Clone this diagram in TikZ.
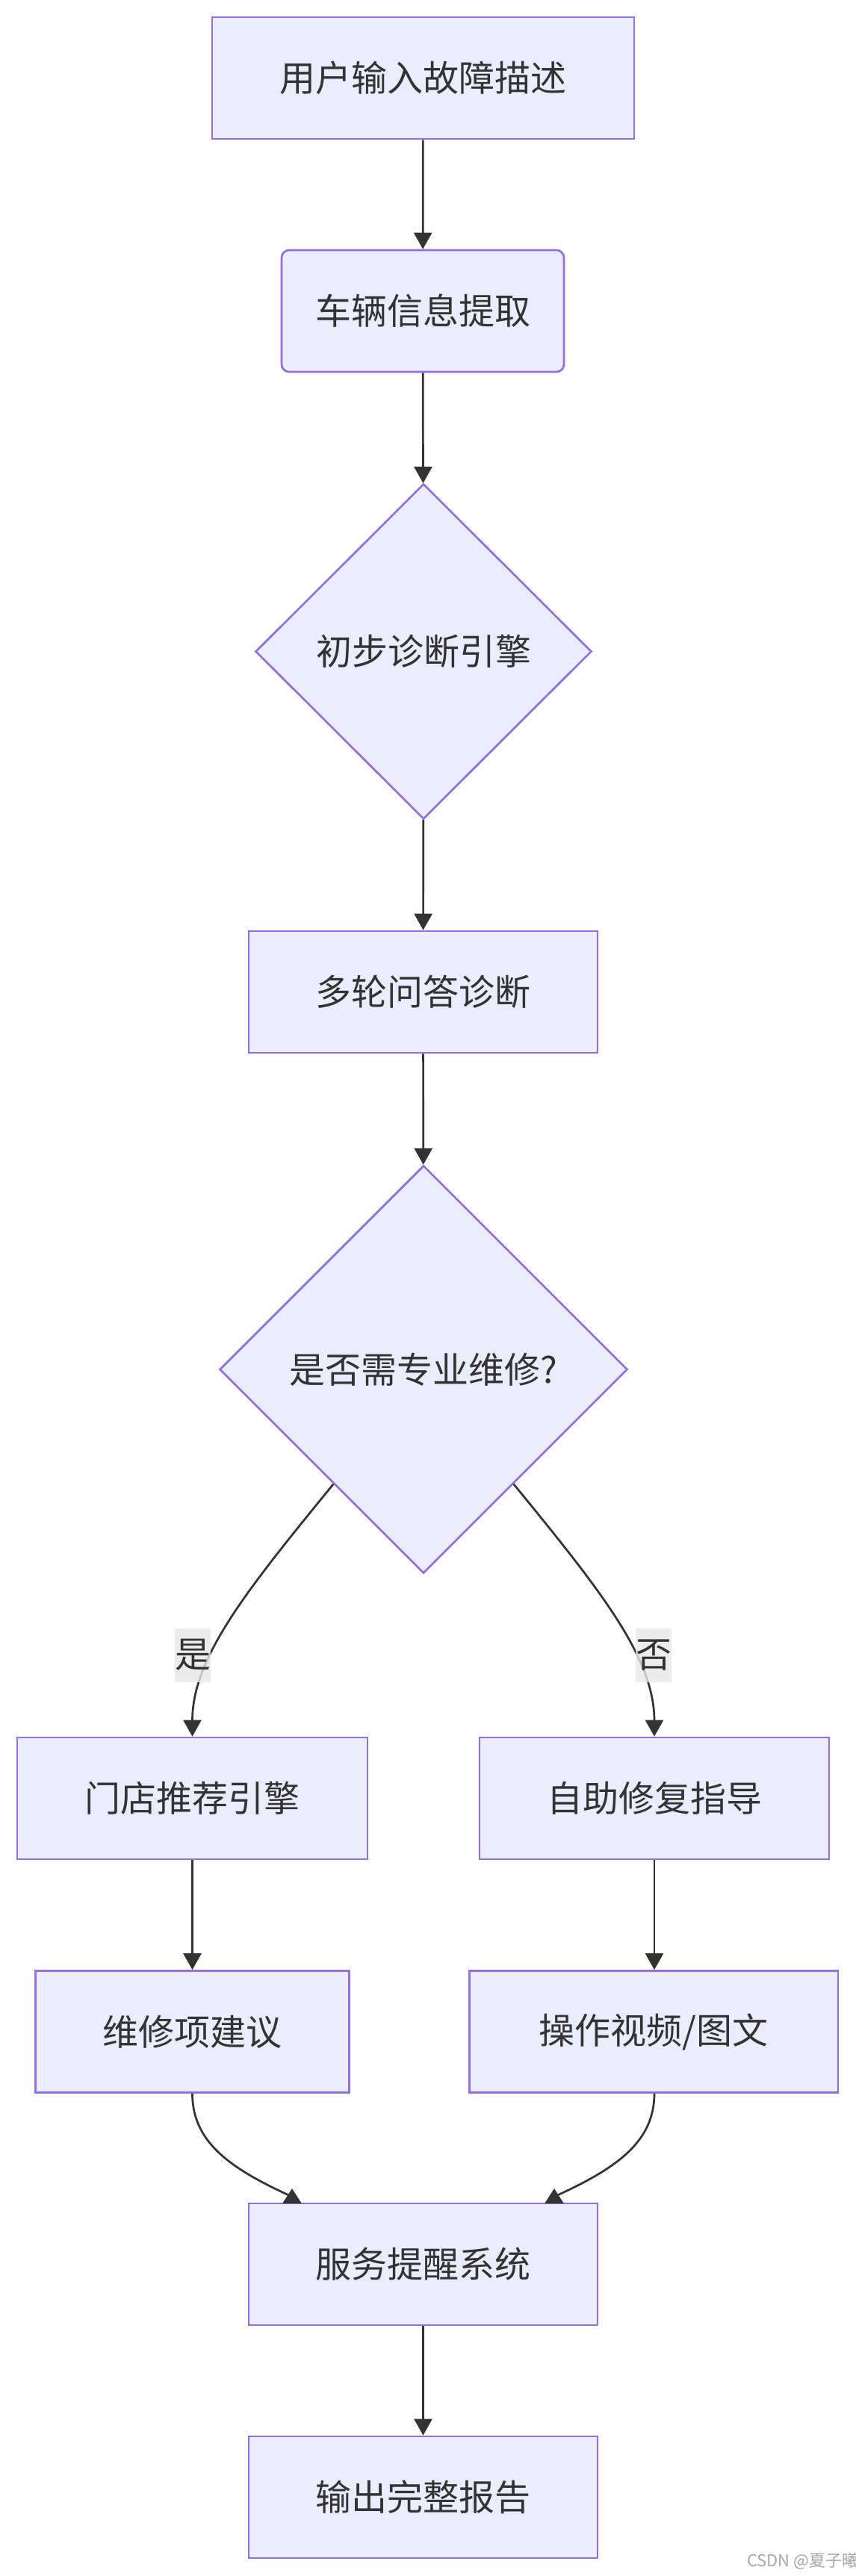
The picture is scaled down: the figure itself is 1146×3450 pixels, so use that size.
\documentclass[tikz,border=0pt]{standalone}
\usepackage{fontspec}
\newfontfamily\cjk{Noto Sans CJK SC}
\usetikzlibrary{shapes.geometric,arrows.meta,calc}
\definecolor{nodefill}{HTML}{ECECFF}
\definecolor{nodeline}{HTML}{9370DB}
\definecolor{edgecol}{HTML}{333333}
\definecolor{txtcol}{HTML}{333333}
\definecolor{lblbg}{HTML}{E8E8E8}
\definecolor{wmcol}{HTML}{A8A8A8}
\begin{document}
\begin{tikzpicture}[x=0.5pt,y=-0.5pt,
  box/.style={draw=nodeline, fill=nodefill, line width=1.35pt, inner sep=0pt,
    text=txtcol, font=\cjk\fontsize{24}{28}\selectfont, minimum height=81.5pt},
  rbox/.style={box, rounded corners=5pt},
  dia/.style={box, shape=diamond, aspect=1},
  lbl/.style={fill=lblbg, fill opacity=0.8, text opacity=1, inner sep=0pt, text=txtcol,
    minimum width=24pt, minimum height=36pt, font=\cjk\fontsize{24}{28}\selectfont},
  edge/.style={draw=edgecol, line width=1.35pt, -{Triangle[length=11pt,width=12pt]}},
  sedge/.style={draw=edgecol, line width=1.35pt, -{Triangle[length=10pt,width=12.5pt]}}
]
\fill[white] (0,0) rectangle (1146,3450);
\useasboundingbox (0,0) rectangle (1146,3450);

\node[box, minimum width=282.5pt] (b1) at (566.5,104.5) {用户输入故障描述};
\node[rbox, minimum width=189pt] (b2) at (566,416.5) {车辆信息提取};
\node[dia, minimum width=225pt, minimum height=224.5pt] (d1) at (567,872.5) {初步诊断引擎};
\node[box, minimum width=233.5pt] (b3) at (566.5,1328.5) {多轮问答诊断};
\node[dia, minimum width=273pt, minimum height=273pt] (d2) at (567,1834) {是否需专业维修?};
\node[box, minimum width=234.5pt] (b4) at (257.5,2408.5) {门店推荐引擎};
\node[box, minimum width=234pt] (b5) at (876,2408.5) {自助修复指导};
\node[box, minimum width=210pt] (b6) at (257.5,2721) {维修项建议};
\node[box, minimum width=246.7pt] (b7) at (875.3,2721) {操作视频/图文};
\node[box, minimum width=233.5pt] (b8) at (566.5,3032.5) {服务提醒系统};
\node[box, minimum width=233.5pt] (b9) at (566.5,3344.5) {输出完整报告};

\draw[edge] (b1) -- (b2);
\draw[edge] (b2) -- (d1);
\draw[edge] (d1) -- (b3);
\draw[edge] (b3) -- (d2);

\coordinate (d2l) at ($(d2.west)!0.56!(d2.south)$);
\coordinate (d2r) at ($(d2.east)!0.56!(d2.south)$);
\draw[edge] (d2l) .. controls (330,2130) and (257.5,2220) .. (b4.north);
\draw[edge] (d2r) .. controls (804,2130) and (876,2220) .. (b5.north);
\node[lbl] (ly) at (258,2216.5) {是};
\node[lbl] (ln) at (875,2216.5) {否};

\draw[edge] (b4) -- (b6);
\draw[edge] (b5) -- (b7.north -| b5);

\coordinate (b8lm) at (391,2942);
\coordinate (b8la) at (391,2931);
\coordinate (b8rm) at (742,2942);
\coordinate (b8ra) at (742,2931);
\draw[sedge] (b6.south) .. controls (257.5,2870) and (310,2905) .. (b8lm) -- (b8la);
\draw[sedge] (b7.south -| b5) .. controls (876,2870) and (823,2905) .. (b8rm) -- (b8ra);

\draw[edge] (b8) -- (b9);

\node[anchor=east, inner sep=0pt, text=wmcol, font=\cjk\fontsize{11}{13}\selectfont] (wm) at (1150,3430) {CSDN @夏子曦};
\end{tikzpicture}
\end{document}
